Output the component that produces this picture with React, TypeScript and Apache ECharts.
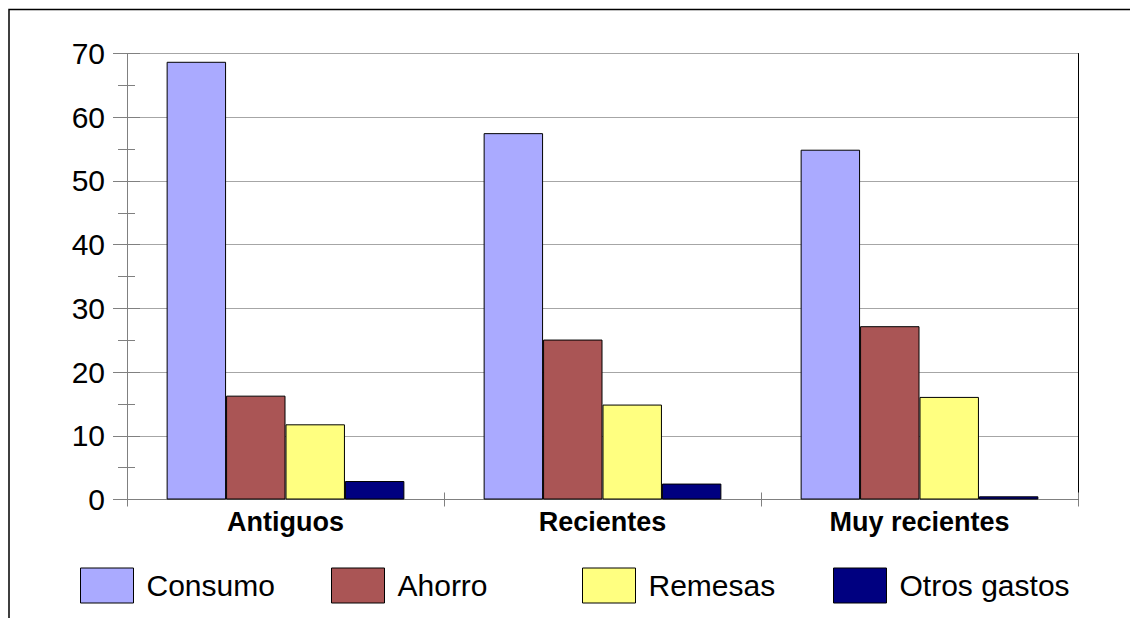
import React, { useEffect, useRef } from "react";
import * as echarts from "echarts";

// Destination groups and how their income is spent (%)
const categories = ["Antiguos", "Recientes", "Muy recientes"];
const seriesNames = ["Consumo", "Ahorro", "Remesas", "Otros gastos"];
const consumo = [68.7, 57.5, 54.9];
const ahorro = [16.3, 25.1, 27.2];
const remesas = [11.8, 14.9, 16.1];
const otrosGastos = [2.9, 2.5, 0.5];
const seriesValues = [consumo, ahorro, remesas, otrosGastos];
const barColors = ["#aaaaff", "#aa5555", "#ffff80", "#000080"];

const FONT = "'Liberation Sans', Arial, Helvetica, sans-serif";
const AXIS_GRAY = "#808080";
const GRID_GRAY = "#a6a6a6";

export default function App() {
  const ref = useRef<HTMLDivElement>(null);

  useEffect(() => {
    if (!ref.current) return;
    const chart = echarts.init(ref.current, undefined, { renderer: "svg" });

    const valueAxisBase = {
      type: "value" as const,
      min: 0,
      max: 70,
      interval: 10,
      position: "left" as const,
    };

    const option: any = {
      animation: false,
      backgroundColor: "#ffffff",
      grid: { left: 127, right: 52, top: 53.5, bottom: 118.5, containLabel: false },
      xAxis: [
        {
          type: "category",
          data: categories,
          boundaryGap: true,
          axisLine: { show: true, lineStyle: { color: AXIS_GRAY, width: 1 } },
          axisTick: { show: true, inside: false, length: 7, lineStyle: { color: AXIS_GRAY } },
          axisLabel: {
            color: "#000",
            fontFamily: FONT,
            fontSize: 27,
            fontWeight: "bold",
            margin: 9,
          },
          splitLine: { show: false },
        },
        {
          type: "category",
          data: categories,
          position: "bottom",
          boundaryGap: true,
          axisLine: { show: false },
          axisTick: { show: true, inside: true, length: 7, lineStyle: { color: AXIS_GRAY } },
          axisLabel: { show: false },
          splitLine: { show: false },
        },
      ],
      yAxis: [
        {
          ...valueAxisBase,
          axisLine: { show: true, lineStyle: { color: AXIS_GRAY, width: 1 } },
          axisTick: { show: true, inside: false, length: 14, lineStyle: { color: AXIS_GRAY } },
          minorTick: { show: true, splitNumber: 2, length: 9, lineStyle: { color: AXIS_GRAY } },
          axisLabel: { color: "#000", fontFamily: FONT, fontSize: 30, margin: 22 },
          splitLine: { show: true, lineStyle: { color: GRID_GRAY, width: 1 } },
        },
        {
          ...valueAxisBase,
          axisLine: { show: false },
          axisTick: { show: true, inside: true, length: 13, lineStyle: { color: AXIS_GRAY } },
          minorTick: { show: true, splitNumber: 2, length: 8, lineStyle: { color: AXIS_GRAY } },
          axisLabel: { show: false },
          splitLine: { show: false },
        },
        {
          ...valueAxisBase,
          position: "right",
          axisLine: { show: true, lineStyle: { color: "#000", width: 1 } },
          axisTick: { show: false },
          axisLabel: { show: false },
          splitLine: { show: false },
        },
      ],
      legend: seriesNames.map((name, i) => ({
        data: [name],
        left: 75 + i * 251,
        top: 562.5,
        icon: "rect",
        itemWidth: 53,
        itemHeight: 35,
        selectedMode: false,
        itemStyle: { borderColor: "#000", borderWidth: 1 },
        textStyle: {
          color: "#000",
          fontFamily: FONT,
          fontSize: 30,
          padding: [0, 0, 0, 8],
        },
      })),
      series: seriesNames.map((name, i) => ({
        name,
        type: "bar",
        xAxisIndex: 0,
        yAxisIndex: 0,
        data: seriesValues[i],
        barGap: "0%",
        barCategoryGap: "25%",
        itemStyle: { color: barColors[i], borderColor: "#000", borderWidth: 1 },
      })),
      graphic: [
        {
          type: "rect",
          silent: true,
          z: 100,
          shape: { x: 9, y: 9.5, width: 1400, height: 900 },
          style: { fill: "none", stroke: "#000", lineWidth: 1.5 },
        },
      ],
    };

    chart.setOption(option);
    return () => chart.dispose();
  }, []);

  return (
    <div
      ref={ref}
      style={{
        position: "fixed",
        left: 0,
        top: 0,
        width: 1130,
        height: 618,
        background: "#fff",
      }}
    />
  );
}
